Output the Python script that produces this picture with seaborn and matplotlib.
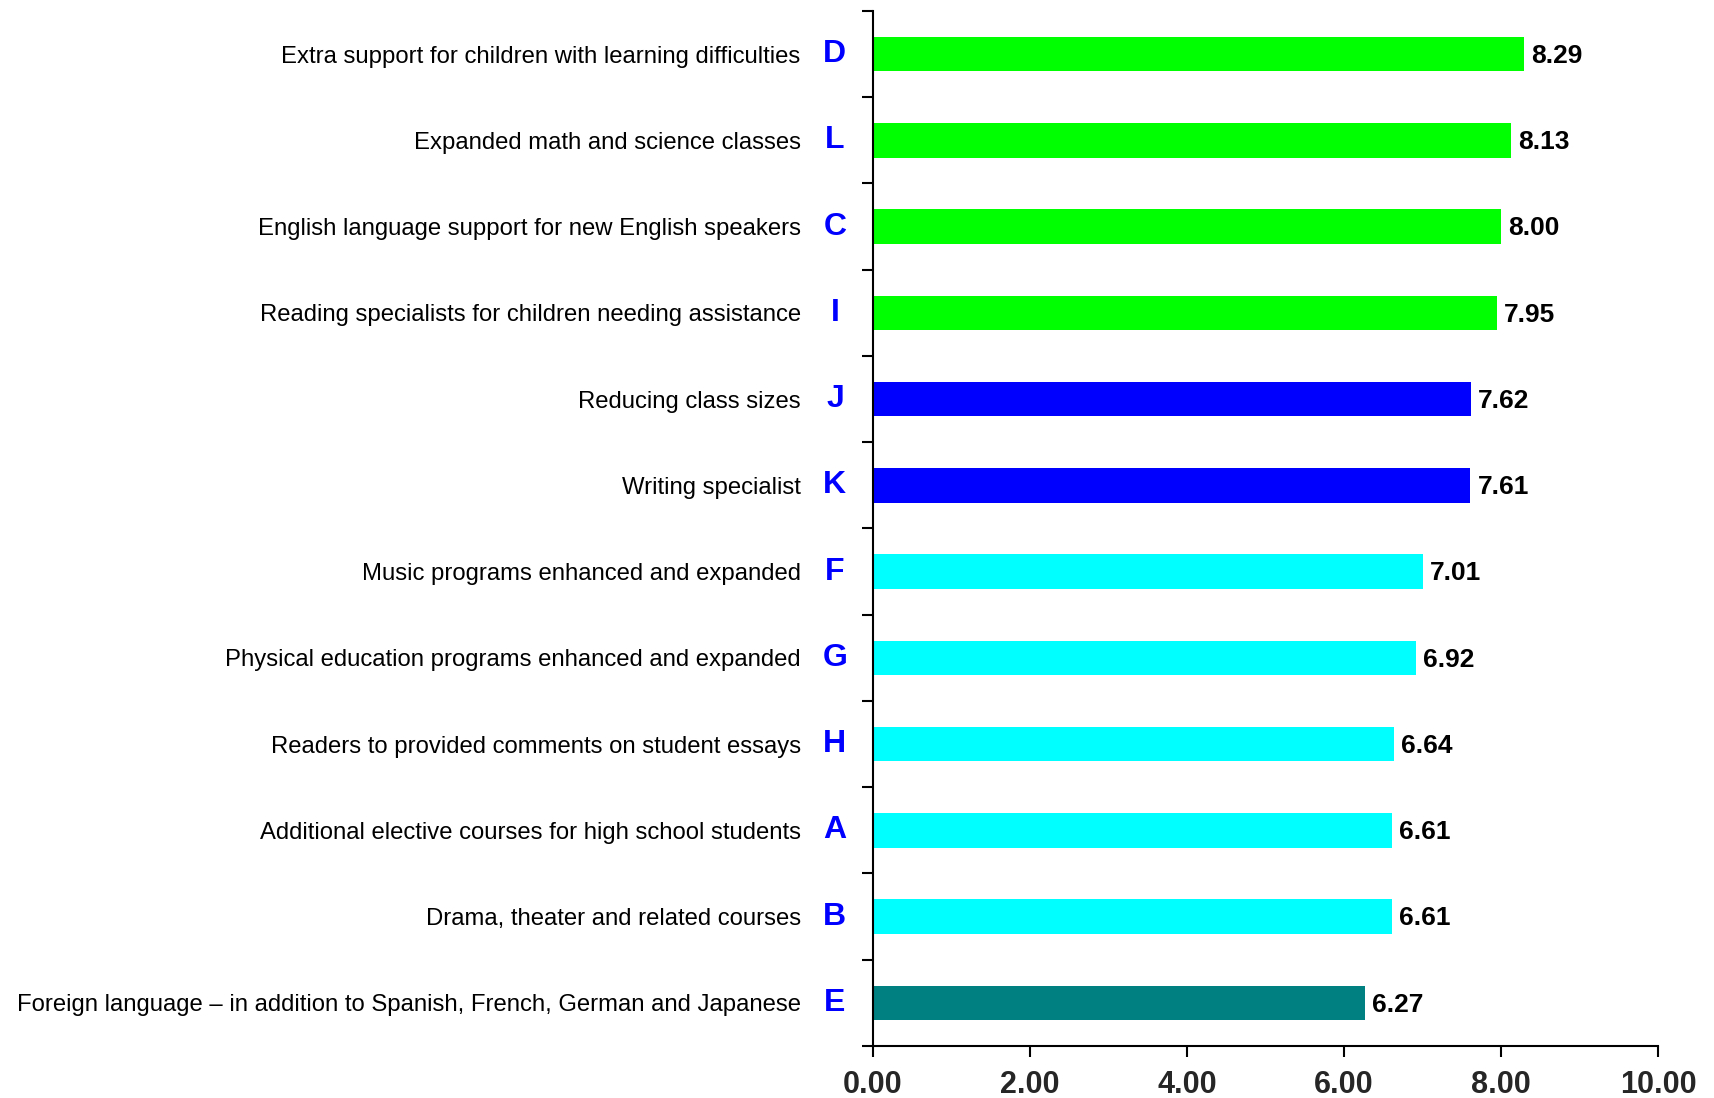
import matplotlib
matplotlib.use("Agg")
import matplotlib.pyplot as plt
import seaborn as sns
import numpy as np
import pandas as pd

categories = [
    "Extra support for children with learning difficulties",
    "Expanded math and science classes",
    "English language support for new English speakers",
    "Reading specialists for children needing assistance",
    "Reducing class sizes",
    "Writing specialist",
    "Music programs enhanced and expanded",
    "Physical education programs enhanced and expanded",
    "Readers to provided comments on student essays",
    "Additional elective courses for high school students",
    "Drama, theater and related courses",
    "Foreign language \u2013 in addition to Spanish, French, German and Japanese",
]
letters = ["D", "L", "C", "I", "J", "K", "F", "G", "H", "A", "B", "E"]
values = [8.29, 8.13, 8.00, 7.95, 7.62, 7.61, 7.01, 6.92, 6.64, 6.61, 6.61, 6.27]
bar_colors = ["#00FF00", "#00FF00", "#00FF00", "#00FF00",
              "#0000FF", "#0000FF",
              "#00FFFF", "#00FFFF", "#00FFFF", "#00FFFF", "#00FFFF",
              "#008080"]
x_ticks = [0, 2, 4, 6, 8, 10]

sns.set_theme(style="white")
plt.rcParams["font.family"] = ["Liberation Sans", "DejaVu Sans"]

df = pd.DataFrame({"category": categories, "value": values})

fig = plt.figure(figsize=(17.14, 10.98), dpi=100)
ax = fig.add_axes([0.5093, 0.0474, 0.4581, 0.9426])

sns.barplot(data=df, x="value", y="category", hue="category",
            palette=bar_colors, order=categories, hue_order=categories,
            width=0.4, saturation=1, legend=False, ax=ax, edgecolor="none")

ax.set_xlim(0, 10)
ax.set_ylim(len(categories) - 0.5, -0.5)
ax.set_xlabel("")
ax.set_ylabel("")

# spines
for s in ["top", "right"]:
    ax.spines[s].set_visible(False)
for s in ["left", "bottom"]:
    ax.spines[s].set_color("black")
    ax.spines[s].set_linewidth(1.5)

# x ticks
ax.set_xticks(x_ticks)
ax.set_xticklabels([f"{t:.2f}" for t in x_ticks],
                   fontsize=22, fontweight="bold")
ax.tick_params(axis="x", direction="out", length=8, width=1.5, color="black",
               pad=9, bottom=True)

# y ticks: labels at centers, marks at boundaries
ax.set_yticks(range(len(categories)))
ax.set_yticklabels(categories, fontsize=17.2, color="black")
ax.tick_params(axis="y", which="major", length=0, pad=52, left=True)
ax.set_yticks(np.arange(-0.5, len(categories), 1), minor=True)
ax.tick_params(axis="y", which="minor", direction="out", length=8, width=1.5,
               color="black", left=True)

# letters
for i, let in enumerate(letters):
    ax.text(-0.0484, i, let, transform=ax.get_yaxis_transform(),
            ha="center", va="center", fontsize=23, fontweight="bold",
            color="#0000FF")

# value labels
for i, v in enumerate(values):
    ax.annotate(f"{v:.2f}", xy=(v, i + 0.02), xytext=(5, 0),
                textcoords="offset points", ha="left", va="center",
                fontsize=19, fontweight="bold", color="black")

ax.grid(False)
fig.savefig("out.png", dpi=100)
